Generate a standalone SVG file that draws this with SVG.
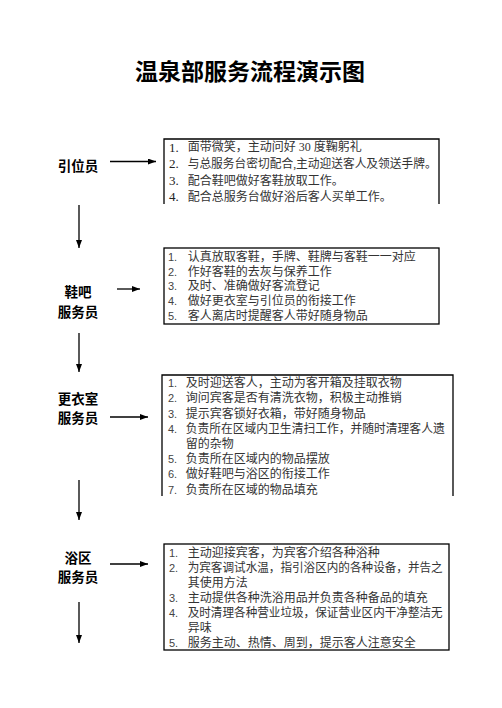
<svg xmlns="http://www.w3.org/2000/svg" width="502" height="708" viewBox="0 0 502 708">
<defs>
<style>
.title{font-family:"Noto Sans CJK SC","Noto Sans CJK JP",sans-serif;font-size:23px;font-weight:bold;fill:#000}
.lbl{font-family:"Noto Sans CJK SC","Noto Sans CJK JP",sans-serif;font-size:13.5px;font-weight:bold;fill:#000;text-anchor:middle}
.t{font-family:"Liberation Serif","Noto Sans CJK SC","Noto Sans CJK JP",serif;font-size:12px;fill:#333}
.n1{font-family:"Liberation Serif",serif;font-size:13px;fill:#222}
.n{font-family:"Liberation Sans",sans-serif;font-size:11px;fill:#444}
.box{fill:none;stroke:#000;stroke-width:1.3}
.con{stroke:#000;stroke-width:1.3;fill:none}
</style>
<marker id="ah" viewBox="0 0 8 6" refX="8" refY="3" markerWidth="8" markerHeight="6" markerUnits="userSpaceOnUse" orient="auto">
<path d="M0,0 L8,3 L0,6 Z" fill="#000"/>
</marker>
</defs>
<rect width="502" height="708" fill="#fff"/>
<text class="title" x="250" y="80" text-anchor="middle">温泉部服务流程演示图</text>

<g id="connectors">
<line class="con" x1="110" y1="161.5" x2="156" y2="161.5" marker-end="url(#ah)"/>
<line class="con" x1="79" y1="205" x2="79" y2="248" marker-end="url(#ah)"/>
<line class="con" x1="117" y1="289" x2="140" y2="289" marker-end="url(#ah)"/>
<line class="con" x1="79" y1="333" x2="79" y2="372" marker-end="url(#ah)"/>
<line class="con" x1="110" y1="417" x2="148" y2="417" marker-end="url(#ah)"/>
<line class="con" x1="79" y1="480" x2="79" y2="520" marker-end="url(#ah)"/>
<line class="con" x1="110" y1="564" x2="148" y2="564" marker-end="url(#ah)"/>
<line class="con" x1="79" y1="602" x2="79" y2="643" marker-end="url(#ah)"/>
</g>

<g id="label-yinwei"><text class="lbl" x="78" y="170.5">引位员</text></g>
<g id="label-xieba"><text class="lbl" x="78" y="297">鞋吧</text><text class="lbl" x="78" y="316.7">服务员</text></g>
<g id="label-gengyi"><text class="lbl" x="78" y="404">更衣室</text><text class="lbl" x="78" y="423">服务员</text></g>
<g id="label-yuqu"><text class="lbl" x="78" y="563">浴区</text><text class="lbl" x="78" y="582">服务员</text></g>

<g id="box1">
<path class="box" d="M164,204 V139 H439 V204"/>
<text class="n1" x="169" y="151.5">1.</text><text class="t" x="187.7" y="151">面带微笑，主动问好 30 度鞠躬礼</text>
<text class="n1" x="169" y="168">2.</text><text class="t" x="187.7" y="167.5" textLength="249" lengthAdjust="spacingAndGlyphs">与总服务台密切配合,主动迎送客人及领送手牌。</text>
<text class="n1" x="169" y="185">3.</text><text class="t" x="187.7" y="184.5">配合鞋吧做好客鞋放取工作。</text>
<text class="n1" x="169" y="201">4.</text><text class="t" x="187.7" y="200.5">配合总服务台做好浴后客人买单工作。</text>
</g>

<g id="box2">
<rect class="box" x="164" y="248" width="275" height="76"/>
<text class="n" x="168" y="260.5">1.</text><text class="t" x="187.7" y="260.5">认真放取客鞋，手牌、鞋牌与客鞋一一对应</text>
<text class="n" x="168" y="275.5">2.</text><text class="t" x="187.7" y="275.5">作好客鞋的去灰与保养工作</text>
<text class="n" x="168" y="290">3.</text><text class="t" x="187.7" y="290">及时、准确做好客流登记</text>
<text class="n" x="168" y="305">4.</text><text class="t" x="187.7" y="305">做好更衣室与引位员的衔接工作</text>
<text class="n" x="168" y="320">5.</text><text class="t" x="187.7" y="320">客人离店时提醒客人带好随身物品</text>
</g>

<g id="box3">
<path class="box" d="M162,496 V375 H453 V496"/>
<text class="n" x="168" y="387.2">1.</text><text class="t" x="185.7" y="387.2">及时迎送客人，主动为客开箱及挂取衣物</text>
<text class="n" x="168" y="402.4">2.</text><text class="t" x="185.7" y="402.4">询问宾客是否有清洗衣物，积极主动推销</text>
<text class="n" x="168" y="417.6">3.</text><text class="t" x="185.7" y="417.6">提示宾客锁好衣箱，带好随身物品</text>
<text class="n" x="168" y="432.8">4.</text><text class="t" x="185.7" y="432.8" textLength="259" lengthAdjust="spacingAndGlyphs">负责所在区域内卫生清扫工作，并随时清理客人遗</text>
<text class="t" x="185.7" y="448">留的杂物</text>
<text class="n" x="168" y="463.2">5.</text><text class="t" x="185.7" y="463.2">负责所在区域内的物品摆放</text>
<text class="n" x="168" y="478.4">6.</text><text class="t" x="185.7" y="478.4">做好鞋吧与浴区的衔接工作</text>
<text class="n" x="168" y="493.6">7.</text><text class="t" x="185.7" y="493.6">负责所在区域的物品填充</text>
</g>

<g id="box4">
<rect class="box" x="164" y="544" width="285" height="106"/>
<text class="n" x="169" y="556.8">1.</text><text class="t" x="187.7" y="556.8">主动迎接宾客，为宾客介绍各种浴种</text>
<text class="n" x="169" y="571.9">2.</text><text class="t" x="187.7" y="571.9" textLength="255" lengthAdjust="spacingAndGlyphs">为宾客调试水温，指引浴区内的各种设备，并告之</text>
<text class="t" x="187.7" y="586.9">其使用方法</text>
<text class="n" x="169" y="602">3.</text><text class="t" x="187.7" y="602">主动提供各种洗浴用品并负责各种备品的填充</text>
<text class="n" x="169" y="617.1">4.</text><text class="t" x="187.7" y="617.1" textLength="255" lengthAdjust="spacingAndGlyphs">及时清理各种营业垃圾，保证营业区内干净整洁无</text>
<text class="t" x="187.7" y="632.2">异味</text>
<text class="n" x="169" y="647.2">5.</text><text class="t" x="187.7" y="647.2">服务主动、热情、周到，提示客人注意安全</text>
</g>
</svg>
